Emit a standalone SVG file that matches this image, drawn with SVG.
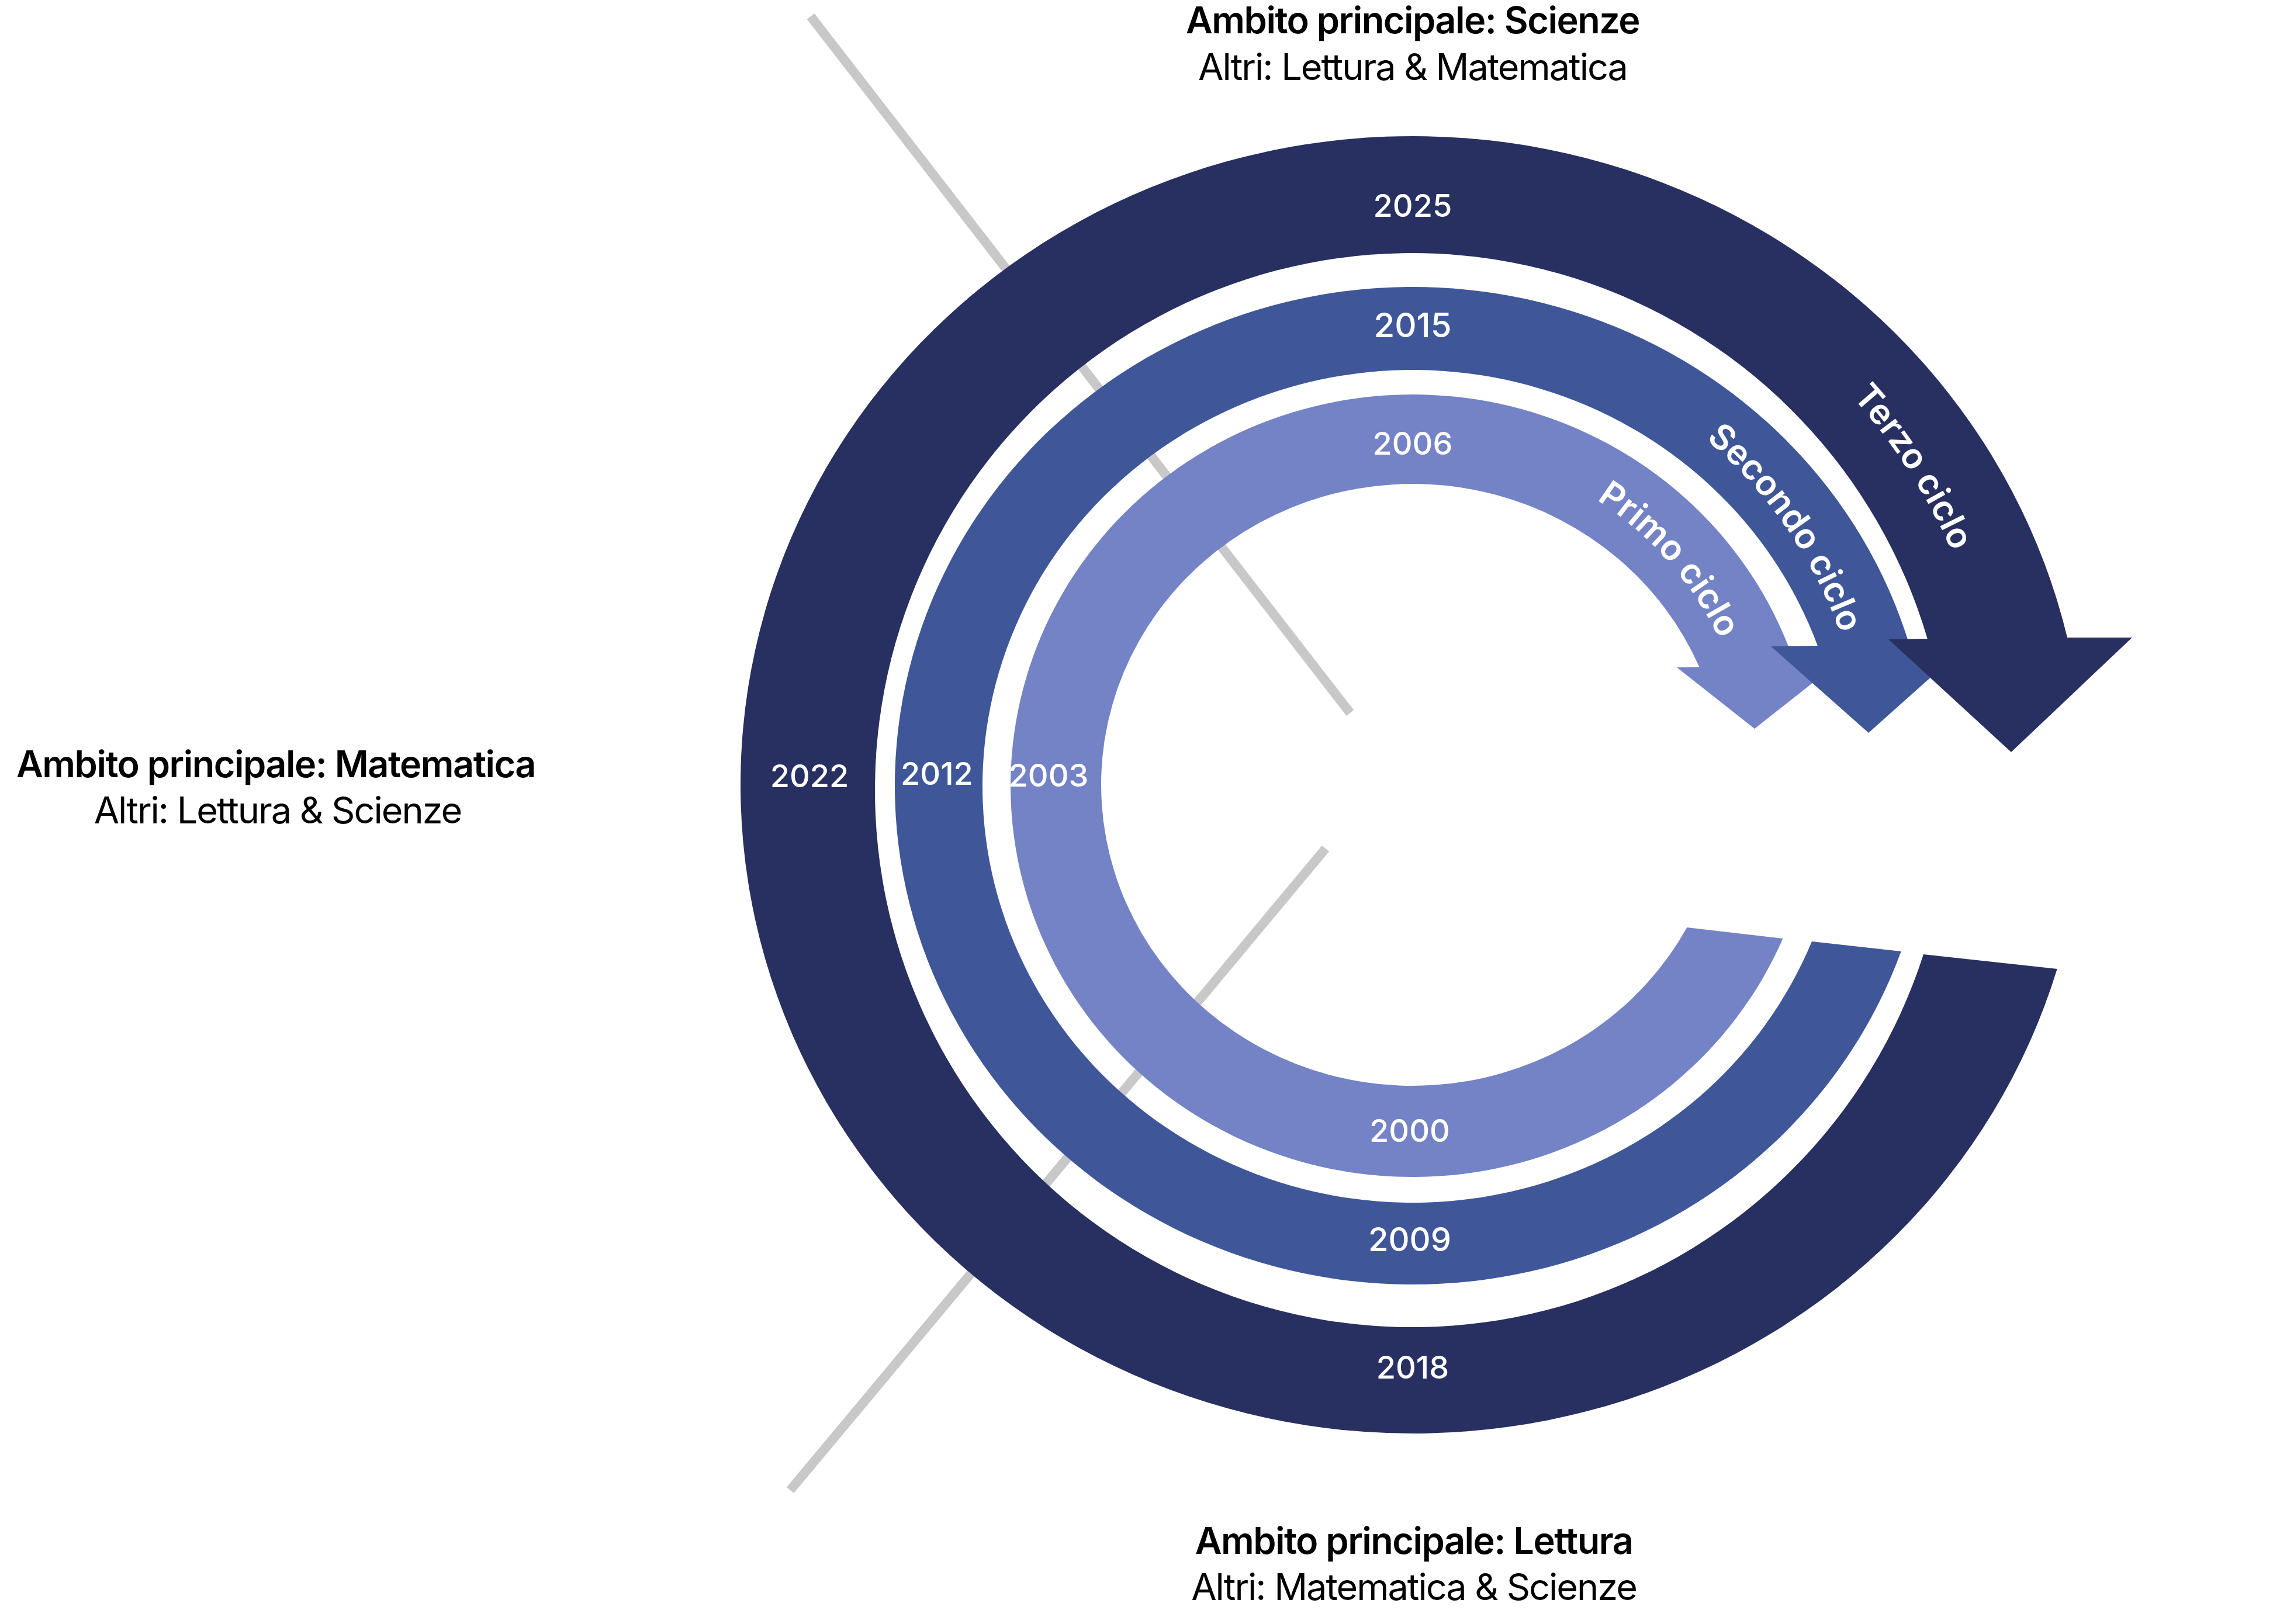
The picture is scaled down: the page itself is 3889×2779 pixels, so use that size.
<svg xmlns="http://www.w3.org/2000/svg" width="3889" height="2779" viewBox="0 0 3889 2779">
<style>
.lbl{font-family:Inter,"Noto Sans","DejaVu Sans",sans-serif;fill:#000;text-anchor:middle;font-size:63px}
.h{font-weight:600;letter-spacing:-1.5px}
.s{font-weight:400;letter-spacing:-2px}
.yr{font-family:Inter,"Noto Sans","DejaVu Sans",sans-serif;font-weight:500;font-size:54px;fill:#fff;text-anchor:middle}
.cyc{font-family:Inter,"Noto Sans","DejaVu Sans",sans-serif;font-weight:600;font-size:60px;fill:#fff;text-anchor:middle}
.dark{fill:#283061}
.mid{fill:#3F5799}
.light{fill:#7383C5}
.axis{stroke:#C8C8C8;stroke-width:16;fill:none}
</style>
<defs>
<path id="tp3" d="M 2714.7,387.1 A 1010 1010 0 0 1 3418.0,1478.6"/>
<path id="tp2" d="M 2622.0,595.5 A 777 777 0 0 1 3190.7,1416.8"/>
<path id="tp1" d="M 2504.0,769.5 A 582 582 0 0 1 2998.8,1330.8"/>
</defs>
<rect width="3889" height="2779" fill="#fff"/>
<g id="connectors">
<line class="axis" x1="1387" y1="28" x2="2310" y2="1220"/>
<line class="axis" x1="2268" y1="1452" x2="1352" y2="2550"/>
</g>
<g id="ciclo-1">
<path class="light" d="M 2886.4,1587 L 3050.4,1606 A 688 669.5 0 1 1 3072.6,1141.5 L 3135,1142 L 3002,1247 L 2869,1142 L 2907.5,1141.5 A 533 515 0 1 0 2886.4,1587 Z"/>
<text class="cyc"><textPath href="#tp1" startOffset="50%">Primo ciclo</textPath></text>
<text class="yr" x="2417" y="778">2006</text>
<text class="yr" x="1794" y="1346">2003</text>
<text class="yr" x="2412" y="1954">2000</text>
</g>
<g id="ciclo-2">
<path class="mid" d="M 3100,1611 L 3252.7,1628 A 886 853.5 0 1 1 3267.4,1105 L 3364,1105 L 3197,1254 L 3030,1106 L 3109.8,1105 A 736 712.5 0 1 0 3100,1611 Z"/>
<text class="cyc"><textPath href="#tp2" startOffset="50%">Secondo ciclo</textPath></text>
<text class="yr" x="2417" y="577" style="font-size:58px">2015</text>
<text class="yr" x="1603" y="1343">2012</text>
<text class="yr" x="2412" y="2141" style="font-size:56px">2009</text>
</g>
<g id="ciclo-3">
<path class="dark" d="M 3291,1633 L 3519.7,1658 A 1150 1110 0 1 1 3537,1091 L 3648,1091 L 3441,1287 L 3231,1094 L 3297.7,1093 A 919 919 0 1 0 3291,1633 Z"/>
<text class="cyc"><textPath href="#tp3" startOffset="50%">Terzo ciclo</textPath></text>
<text class="yr" x="2417" y="371">2025</text>
<text class="yr" x="1385" y="1347">2022</text>
<text class="yr" x="2417" y="2359">2018</text>
</g>
<g id="label-scienze">
<text class="lbl h" x="2417" y="57">Ambito principale: Scienze</text>
<text class="lbl s" x="2417" y="137">Altri: Lettura &amp; Matematica</text>
</g>
<g id="label-matematica">
<text class="lbl h" x="472" y="1330">Ambito principale: Matematica</text>
<text class="lbl s" x="475" y="1409">Altri: Lettura &amp; Scienze</text>
</g>
<g id="label-lettura">
<text class="lbl h" x="2419" y="2659">Ambito principale: Lettura</text>
<text class="lbl s" x="2419" y="2738">Altri: Matematica &amp; Scienze</text>
</g>
</svg>
